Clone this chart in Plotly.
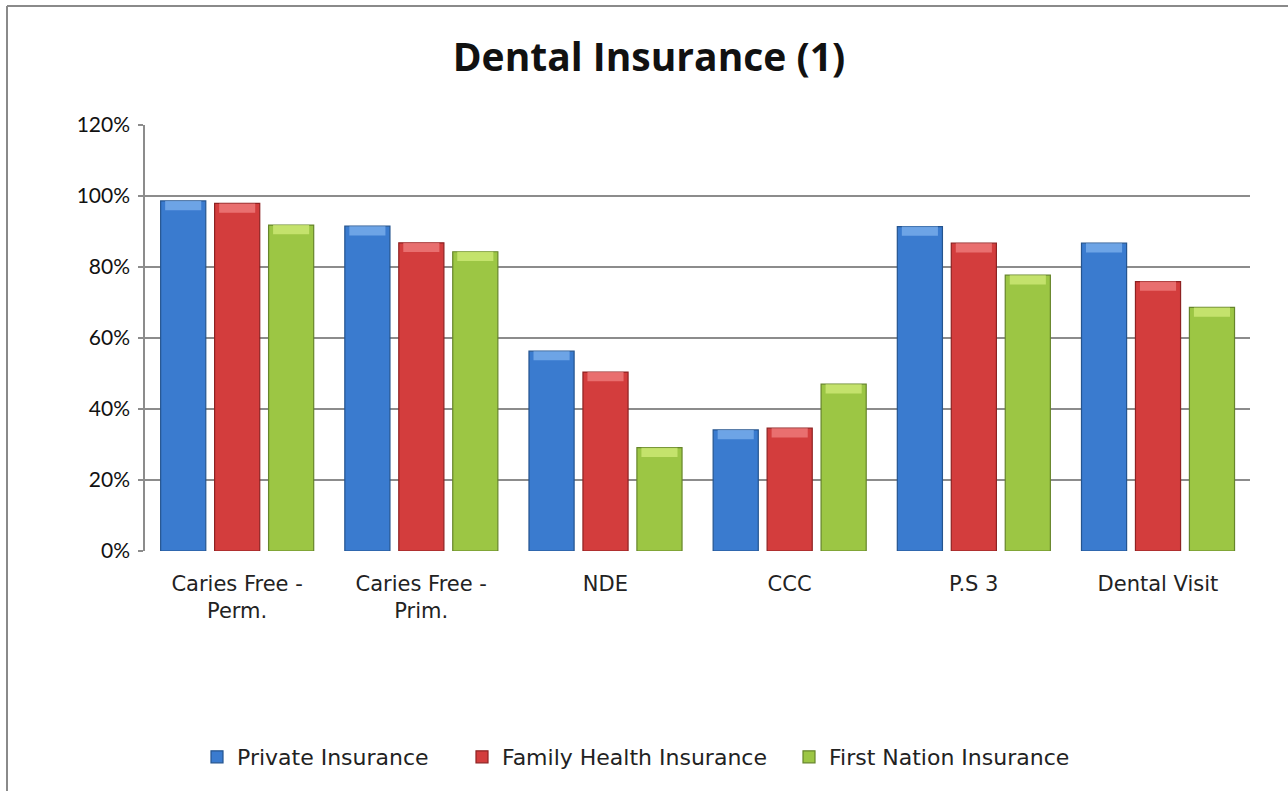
import plotly.graph_objects as go

# Chart data
categories = ["Caries Free -<br>Perm.", "Caries Free -<br>Prim.", "NDE", "CCC", "P.S 3", "Dental Visit"]
private_insurance = [98.6, 91.5, 56.3, 34.1, 91.4, 86.7]
family_health_insurance = [97.9, 86.8, 50.4, 34.6, 86.7, 75.9]
first_nation_insurance = [91.8, 84.3, 29.1, 47.0, 77.7, 68.6]
y_ticks = [0, 20, 40, 60, 80, 100, 120]
y_tick_labels = ["0%", "20%", "40%", "60%", "80%", "100%", "120%"]

series = [
    ("Private Insurance", private_insurance, "#3A7BCF", "#7FB2EE", "#24548F"),
    ("Family Health Insurance", family_health_insurance, "#D33D3D", "#F08080", "#8E2222"),
    ("First Nation Insurance", first_nation_insurance, "#9CC644", "#D2EC7A", "#66852A"),
]

W, H = 1288, 791
PLOT_L, PLOT_R, PLOT_T, PLOT_B = 145, 1250, 125, 551
PW, PH = PLOT_R - PLOT_L, PLOT_B - PLOT_T

BAR_W = 0.245
OFFSETS = [-0.415, -0.122, 0.171]
CAP = 2.6  # height of the lighter bevel at the top of each bar
LEGEND_LEFT_PX = [197, 462, 789]
LEGEND_NAMES = ["legend", "legend2", "legend3"]

fig = go.Figure()
for (name, vals, base_col, light_col, dark_col), off, lg in zip(series, OFFSETS, LEGEND_NAMES):
    fig.add_trace(go.Bar(
        x=categories, y=vals, name=name,
        width=BAR_W, offset=off,
        marker=dict(color=base_col, line=dict(color=dark_col, width=1.2)),
        legend=lg,
    ))
for (name, vals, base_col, light_col, dark_col), off in zip(series, OFFSETS):
    fig.add_trace(go.Bar(
        x=categories, y=[CAP] * len(vals), base=[v - CAP for v in vals],
        width=BAR_W * 0.8, offset=off + BAR_W * 0.1,
        marker=dict(color=light_col, line=dict(width=0)),
        opacity=0.75, showlegend=False, hoverinfo="skip",
    ))

legend_y = (PLOT_B - 757) / PH
legend_style = dict(orientation="h", xanchor="left", y=legend_y, yanchor="middle",
                    font=dict(family="DejaVu Sans", size=22, color="#222222"),
                    itemwidth=30, bgcolor="rgba(0,0,0,0)")
legends = {lg: dict(x=(px - PLOT_L) / PW, **legend_style)
           for lg, px in zip(LEGEND_NAMES, LEGEND_LEFT_PX)}

fig.update_layout(
    width=W, height=H,
    barmode="overlay",
    paper_bgcolor="white", plot_bgcolor="white",
    margin=dict(l=PLOT_L, r=W - PLOT_R, t=PLOT_T, b=H - PLOT_B),
    title=dict(text="<b>Dental Insurance (1)</b>", x=649 / W, xanchor="center",
               y=1 - 57 / H, yanchor="middle",
               font=dict(family="Open Sans", size=39, color="#111111")),
    showlegend=True,
    font=dict(family="Lato", color="#111111"),
    **legends,
)
fig.update_xaxes(
    showline=False, showgrid=False, ticks="",
    tickfont=dict(family="DejaVu Sans", size=21, color="#222222"),
    ticklabelstandoff=18,
)
fig.update_yaxes(
    range=[0, 120], tickvals=y_ticks, ticktext=y_tick_labels,
    showgrid=True, gridcolor="#8C8C8C", gridwidth=1.5,
    showline=True, linecolor="#8C8C8C", linewidth=1.5,
    ticks="outside", ticklen=5, tickcolor="#8C8C8C", tickwidth=1.5,
    tickfont=dict(family="Lato", size=21, color="#111111"),
    ticklabelstandoff=4, zeroline=False,
)

# Outer chart frame (open on the right and bottom edges)
frame_x = (7 - PLOT_L) / PW
frame_y = (PLOT_B - 6) / PH
fig.add_shape(type="line", xref="paper", yref="paper",
              x0=frame_x, x1=1.2, y0=frame_y, y1=frame_y,
              line=dict(color="#8A8A8A", width=2))
fig.add_shape(type="line", xref="paper", yref="paper",
              x0=frame_x, x1=frame_x, y0=frame_y, y1=-1.0,
              line=dict(color="#8A8A8A", width=2))

fig.write_html("out.html")
